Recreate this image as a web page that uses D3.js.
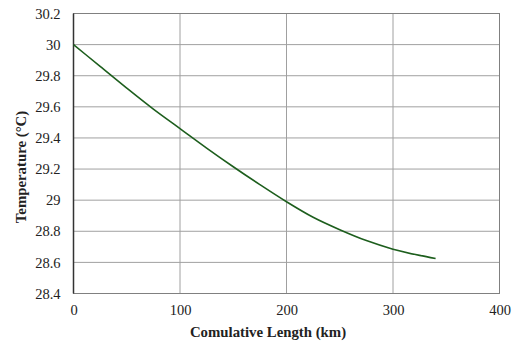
<!DOCTYPE html>
<html>
<head>
<meta charset="utf-8">
<script src="https://cdn.jsdelivr.net/npm/d3@7"></script>
<style>
  body { margin: 0; background: #fff; }
  svg { display: block; }
</style>
</head>
<body>
<div id="chart"></div>
<script>
// values
var lengthKm = [0, 25, 50, 75, 100, 125, 150, 175, 200, 225, 250, 275, 300, 325, 340]
var tempC = [30.00, 29.86, 29.72, 29.585, 29.46, 29.335, 29.215, 29.10, 28.99, 28.89, 28.81, 28.74, 28.685, 28.645, 28.625]
var xTicks = [0, 100, 200, 300, 400]
var yTicks = [28.4, 28.6, 28.8, 29, 29.2, 29.4, 29.6, 29.8, 30, 30.2]

var width = 518
var height = 343
var marginLeft = 73.5
var marginRight = 18.5
var marginTop = 13.5
var marginBottom = 49.5
var W = width - marginLeft - marginRight
var H = height - marginTop - marginBottom

var svg = d3.select('#chart').append('svg')
    .attr('width', width)
    .attr('height', height)
var rootG = svg.append('g')
    .attr('transform', 'translate(' + marginLeft + ',' + marginTop + ')')

var X = d3.scaleLinear().domain([0, 400]).range([0, W])
var Y = d3.scaleLinear().domain([28.4, 30.2]).range([H, 0])

//网格
rootG.append('g')
    .selectAll('line')
    .data(yTicks)
    .enter()
    .append('line')
    .attr('x1', 0)
    .attr('x2', W)
    .attr('y1', function (d) { return Y(d) })
    .attr('y2', function (d) { return Y(d) })
    .attr('stroke', '#a0a0a0')
    .attr('stroke-width', 1)
rootG.append('g')
    .selectAll('line')
    .data(xTicks)
    .enter()
    .append('line')
    .attr('x1', function (d) { return X(d) })
    .attr('x2', function (d) { return X(d) })
    .attr('y1', 0)
    .attr('y2', H)
    .attr('stroke', '#a0a0a0')
    .attr('stroke-width', 1)
rootG.append('rect')
    .attr('x', 0)
    .attr('y', 0)
    .attr('width', W)
    .attr('height', H)
    .attr('fill', 'none')
    .attr('stroke', '#808080')
    .attr('stroke-width', 1)
rootG.append('line')
    .attr('x1', 0).attr('x2', 0)
    .attr('y1', 0).attr('y2', H)
    .attr('stroke', '#333')
    .attr('stroke-width', 1.5)

//坐标轴
var xAxis = rootG.append('g')
    .attr('transform', 'translate(0,' + H + ')')
    .call(d3.axisBottom(X).tickValues(xTicks).tickSize(0).tickPadding(11).tickFormat(d3.format('d')))
var yAxis = rootG.append('g')
    .call(d3.axisLeft(Y).tickValues(yTicks).tickSize(0).tickPadding(13).tickFormat(function (d) { return +d.toFixed(1) }))
rootG.selectAll('.domain').remove()
rootG.selectAll('.tick text')
    .attr('font-family', 'Liberation Serif, serif')
    .attr('font-size', 14.5)
    .attr('fill', '#222')

//曲线
var line = d3.line()
    .x(function (d, i) { return X(lengthKm[i]) })
    .y(function (d) { return Y(d) })
    .curve(d3.curveMonotoneX)
rootG.append('path')
    .datum(tempC)
    .attr('d', line)
    .attr('fill', 'none')
    .attr('stroke', '#1d5e1d')
    .attr('stroke-width', 1.6)

//标题
svg.append('text')
    .attr('x', 268)
    .attr('y', 337)
    .attr('text-anchor', 'middle')
    .attr('font-family', 'Liberation Serif, serif')
    .attr('font-weight', 'bold')
    .attr('font-size', 14.8)
    .attr('fill', '#222')
    .text('Comulative Length (km)')
svg.append('text')
    .attr('transform', 'translate(26,167) rotate(-90)')
    .attr('text-anchor', 'middle')
    .attr('font-family', 'Liberation Serif, serif')
    .attr('font-weight', 'bold')
    .attr('font-size', 14.8)
    .attr('fill', '#222')
    .text('Temperature (°C)')
</script>
</body>
</html>
